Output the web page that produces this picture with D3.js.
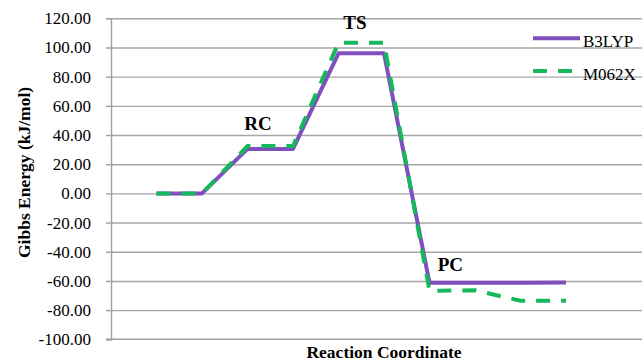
<!DOCTYPE html>
<html>
<head>
<meta charset="utf-8">
<script src="https://cdn.jsdelivr.net/npm/d3@7"></script>
<style>
	body { margin: 0; background: #fff; }
	svg text { font-family: 'Liberation Serif', 'Times New Roman', serif !important; fill: #000; }
</style>
</head>
<body>
<script>
// reaction steps (category index along the reaction coordinate)
let steps = 	[1, 2, 3, 4, 5, 6, 7, 8, 9, 10]
let b3lyp = 	[0, 0, 30.5, 30.5, 96.0, 96.0, -61.3, -61.3, -61.2, -61.0]
let m062x = 	[0, 0, 32.4, 32.4, 103.2, 103.2, -66.8, -66.4, -73.6, -73.6]
let yTicks = 	[-100, -80, -60, -40, -20, 0, 20, 40, 60, 80, 100, 120]

// stage labels: [text, step position, energy of baseline]
let stageLabels = 	['RC', 'TS', 'PC']
let stageSteps = 	[3.23, 5.36, 7.46]
let stageEnergy = 	[43.4, 113, -53]

let SERIF = "'Liberation Serif', 'Times New Roman', serif"
let W = 642, H = 361
let m = {left: 111, right: 0, top: 18.3, bottom: 21.7}

// plain hyphen for negatives, like the original
let fmt = d3.formatLocale({decimal: '.', thousands: ',', grouping: [3], currency: ['', ''], minus: '-'}).format('.2f')

let svg = d3.select('body').append('svg').attr('width', W).attr('height', H)

let x = d3.scaleLinear().domain([0, 11.67]).range([m.left, W - m.right])
let y = d3.scaleLinear().domain([-100, 120]).range([H - m.bottom, m.top])

// gridlines
svg.append('g')
	.attr('transform', `translate(${m.left},0)`)
	.call(d3.axisLeft(y).tickValues(yTicks.filter(d => d > -100)).tickSize(-(W - m.left)).tickFormat(''))
	.call(g => g.select('.domain').remove())
	.selectAll('line').attr('stroke', '#a6a6a6').attr('stroke-width', 1.4)

// y axis
let yAxis = svg.append('g')
	.attr('transform', `translate(${m.left},0)`)
	.call(d3.axisLeft(y).tickValues(yTicks).tickSize(5).tickPadding(15).tickFormat(fmt))
yAxis.attr('font-family', SERIF).attr('font-size', 17)
yAxis.select('.domain').attr('stroke', '#a0a0a0').attr('stroke-width', 1.4)
yAxis.selectAll('line').attr('stroke', '#a0a0a0').attr('stroke-width', 1.4)
yAxis.selectAll('text').attr('font-family', SERIF).attr('font-size', 17).attr('fill', '#000')

// bottom axis line
svg.append('line')
	.attr('x1', m.left - 5).attr('x2', W)
	.attr('y1', y(-100)).attr('y2', y(-100))
	.attr('stroke', '#a0a0a0').attr('stroke-width', 1.4)

let line = d3.line().x((d, i) => x(steps[i])).y(d => y(d))

svg.append('path').datum(b3lyp)
	.attr('d', line).attr('fill', 'none')
	.attr('stroke', '#7e4fbd').attr('stroke-width', 4)
	.attr('stroke-linejoin', 'round')

svg.append('path').datum(m062x)
	.attr('d', line).attr('fill', 'none')
	.attr('stroke', '#16b85c').attr('stroke-width', 4)
	.attr('stroke-dasharray', '14,11')

// stage labels
stageLabels.forEach((t, i) => {
	svg.append('text')
		.attr('x', x(stageSteps[i])).attr('y', y(stageEnergy[i]))
		.attr('text-anchor', 'middle')
		.attr('font-family', SERIF).attr('font-size', 19).attr('font-weight', 'bold')
		.text(t)
})

// axis titles
svg.append('text')
	.attr('transform', 'translate(30,172.5) rotate(-90)')
	.attr('text-anchor', 'middle')
	.attr('font-family', SERIF).attr('font-size', 17.5).attr('font-weight', 'bold')
	.text('Gibbs Energy (kJ/mol)')

svg.append('text')
	.attr('x', 384).attr('y', 358)
	.attr('text-anchor', 'middle')
	.attr('font-family', SERIF).attr('font-size', 17.5).attr('font-weight', 'bold')
	.text('Reaction Coordinate')

// legend
let legend = [
	{name: 'B3LYP', color: '#7e4fbd', dash: null, y: 38.3},
	{name: 'M062X', color: '#16b85c', dash: '14,11', y: 71}
]
legend.forEach(l => {
	svg.append('line')
		.attr('x1', 533).attr('x2', 580)
		.attr('y1', l.y).attr('y2', l.y)
		.attr('stroke', l.color).attr('stroke-width', 4)
		.attr('stroke-dasharray', l.dash)
	svg.append('text')
		.attr('x', 583).attr('y', l.y + 9)
		.attr('font-family', SERIF).attr('font-size', 17)
		.text(l.name)
})
</script>
</body>
</html>
